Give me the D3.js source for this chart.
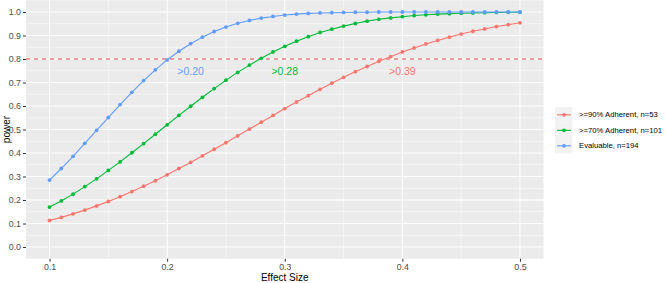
<!DOCTYPE html>
<html><head><meta charset="utf-8">
<script src="https://cdn.jsdelivr.net/npm/d3@7"></script>
<style>body{margin:0;background:#fff}svg{display:block;font-family:"Liberation Sans",Arial,sans-serif}</style>
</head><body><svg id="c" width="666" height="283"></svg>
<script>
const effectSizes = [0.10,0.11,0.12,0.13,0.14,0.15,0.16,0.17,0.18,0.19,0.20,0.21,0.22,0.23,0.24,0.25,0.26,0.27,0.28,0.29,0.30,0.31,0.32,0.33,0.34,0.35,0.36,0.37,0.38,0.39,0.40,0.41,0.42,0.43,0.44,0.45,0.46,0.47,0.48,0.49,0.50];
const power90 = [0.113,0.126,0.141,0.157,0.175,0.194,0.214,0.236,0.259,0.282,0.307,0.334,0.360,0.388,0.416,0.444,0.473,0.502,0.531,0.560,0.589,0.617,0.644,0.671,0.697,0.722,0.746,0.768,0.790,0.810,0.830,0.847,0.864,0.879,0.893,0.906,0.918,0.928,0.938,0.946,0.954];
const power70 = [0.170,0.196,0.225,0.257,0.290,0.326,0.362,0.401,0.440,0.480,0.520,0.560,0.599,0.637,0.674,0.710,0.743,0.774,0.803,0.830,0.854,0.876,0.895,0.913,0.927,0.940,0.951,0.961,0.969,0.975,0.980,0.985,0.988,0.991,0.993,0.995,0.996,0.997,0.998,0.999,0.999];
const powerEval = [0.285,0.334,0.386,0.441,0.496,0.551,0.606,0.658,0.708,0.754,0.796,0.833,0.865,0.893,0.917,0.936,0.952,0.964,0.974,0.981,0.987,0.991,0.994,0.996,0.997,0.998,0.999,0.999,1.000,1.000,1.000,1.000,1.000,1.000,1.000,1.000,1.000,1.000,1.000,1.000,1.000];
const seriesNames = [">=90% Adherent, n=53", ">=70% Adherent, n=101", "Evaluable, n=194"];
const seriesColors = ["#F8766D", "#00BA38", "#619CFF"];
const thresholdLabels = [">0.39", ">0.28", ">0.20"];
const labelX = [0.40, 0.30, 0.22];
const labelY = 0.75;
const threshold = 0.8;
const xTicks = [0.1,0.2,0.3,0.4,0.5];
const yTicks = [0,0.1,0.2,0.3,0.4,0.5,0.6,0.7,0.8,0.9,1.0];

const series = [power90, power70, powerEval];
const svg = d3.select("#c");
const L = 26, R = 543.5, T = 0.25, B = 258.75;
const x = d3.scaleLinear().domain([0.08, 0.52]).range([L, R]);
const y = d3.scaleLinear().domain([-0.05, 1.05]).range([B, T]);

svg.append("rect").attr("x", L).attr("y", T).attr("width", R - L).attr("height", B - T).attr("fill", "#EBEBEB");
const g = svg.append("g");
// minor grid
[0.15,0.25,0.35,0.45].forEach(v => g.append("line").attr("x1", x(v)).attr("x2", x(v)).attr("y1", T).attr("y2", B).attr("stroke", "#fff").attr("stroke-width", 0.5));
d3.range(0, 10).map(i => 0.05 + i * 0.1).forEach(v => g.append("line").attr("y1", y(v)).attr("y2", y(v)).attr("x1", L).attr("x2", R).attr("stroke", "#fff").attr("stroke-width", 0.5));
// major grid
xTicks.forEach(v => g.append("line").attr("x1", x(v)).attr("x2", x(v)).attr("y1", T).attr("y2", B).attr("stroke", "#fff").attr("stroke-width", 1));
yTicks.forEach(v => g.append("line").attr("y1", y(v)).attr("y2", y(v)).attr("x1", L).attr("x2", R).attr("stroke", "#fff").attr("stroke-width", 1));

// axes
const xa = svg.append("g").attr("transform", `translate(0,${B})`).call(d3.axisBottom(x).tickValues(xTicks).tickFormat(d3.format(".1f")).tickSize(3).tickPadding(2));
const ya = svg.append("g").attr("transform", `translate(${L},0)`).call(d3.axisLeft(y).tickValues(yTicks).tickFormat(d3.format(".1f")).tickSize(3).tickPadding(2));
[xa, ya].forEach(a => {
  a.select(".domain").remove();
  a.selectAll("line").attr("stroke", "#333");
  a.selectAll("text").attr("fill", "#4D4D4D").attr("font-size", "8.8px").attr("font-family", "Liberation Sans, Arial, sans-serif");
});

// threshold line
svg.append("line").attr("x1", L).attr("x2", R).attr("y1", y(threshold)).attr("y2", y(threshold))
  .attr("stroke", "#E8414A").attr("stroke-width", 1.1).attr("stroke-dasharray", "4,4");

const line = d3.line().x((d, i) => x(effectSizes[i])).y(d => y(d));
series.forEach((s, k) => {
  svg.append("path").attr("d", line(s)).attr("fill", "none").attr("stroke", seriesColors[k]).attr("stroke-width", 1.1);
  svg.append("g").selectAll("circle").data(s).join("circle")
    .attr("cx", (d, i) => x(effectSizes[i])).attr("cy", d => y(d)).attr("r", 1.9).attr("fill", seriesColors[k]);
  svg.append("text").attr("x", x(labelX[k])).attr("y", y(labelY)).attr("text-anchor", "middle").attr("dominant-baseline", "central")
    .attr("fill", seriesColors[k]).attr("font-size", "10.5px").text(thresholdLabels[k]);
});

// axis titles
svg.append("text").attr("x", (L + R) / 2).attr("y", 280.5).attr("text-anchor", "middle").attr("font-size", "10px").attr("fill", "#000").text("Effect Size");
svg.append("text").attr("transform", `translate(10,${(T + B) / 2}) rotate(-90)`).attr("text-anchor", "middle").attr("font-size", "10px").attr("fill", "#000").text("power");

// legend
const lg = svg.append("g");
seriesNames.forEach((n, k) => {
  const cy = 114.8 + k * 15.5;
  lg.append("rect").attr("x", 555).attr("y", cy - 7.75).attr("width", 17.3).attr("height", 15.5).attr("fill", "#F2F2F2");
  lg.append("line").attr("x1", 557).attr("x2", 571).attr("y1", cy).attr("y2", cy).attr("stroke", seriesColors[k]).attr("stroke-width", 1.1);
  lg.append("circle").attr("cx", 564).attr("cy", cy).attr("r", 1.9).attr("fill", seriesColors[k]);
  lg.append("text").attr("x", 579).attr("y", cy).attr("dominant-baseline", "central").attr("font-size", "7.7px").attr("fill", "#000").text(n);
});
</script></body></html>
